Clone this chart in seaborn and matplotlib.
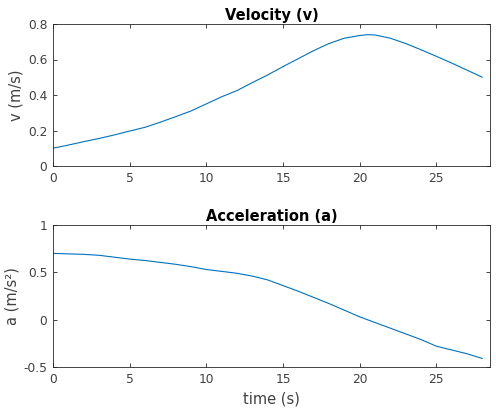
import matplotlib
matplotlib.use("Agg")
import matplotlib.pyplot as plt
import seaborn as sns
import pandas as pd

time_s = [0, 1, 2, 3, 4, 5, 6, 7, 8, 9, 10, 11, 12, 13, 14, 15, 16, 17, 18, 19,
          20, 20.5, 21, 22, 23, 24, 25, 26, 27, 28]
velocity = [0.100, 0.118, 0.137, 0.155, 0.175, 0.197, 0.218, 0.247, 0.278, 0.310,
            0.350, 0.390, 0.425, 0.470, 0.513, 0.560, 0.605, 0.650, 0.690, 0.720,
            0.735, 0.740, 0.738, 0.720, 0.690, 0.655, 0.618, 0.580, 0.540, 0.500]
acceleration = [0.700, 0.695, 0.690, 0.680, 0.660, 0.640, 0.625, 0.605, 0.585, 0.560,
                0.530, 0.510, 0.490, 0.460, 0.420, 0.360, 0.300, 0.235, 0.170, 0.100,
                0.030, 0.000, -0.030, -0.090, -0.150, -0.210, -0.280, -0.320, -0.360, -0.410]

v_ticks = [0, 0.2, 0.4, 0.6, 0.8]
a_ticks = [-0.5, 0, 0.5, 1]
x_ticks = [0, 5, 10, 15, 20, 25]

df = pd.DataFrame({"t": time_s, "v": velocity, "a": acceleration})

sns.set_style("white")
plt.rcParams["font.family"] = ["DejaVu Sans"]

line_color = "#0072BD"
axis_color = "#262626"
text_color = "#404040"

fig = plt.figure(figsize=(4.96, 4.12), dpi=100)
ax1 = fig.add_axes([53/496, 1 - 166/412, 437/496, 142/412])
ax2 = fig.add_axes([53/496, 1 - 367/412, 437/496, 142/412])

sns.lineplot(data=df, x="t", y="v", ax=ax1, color=line_color, linewidth=0.8)
sns.lineplot(data=df, x="t", y="a", ax=ax2, color=line_color, linewidth=0.8)

for ax, yt, ylim, ylabel, title in [
    (ax1, v_ticks, (0, 0.8), "v (m/s)", "Velocity (v)"),
    (ax2, a_ticks, (-0.5, 1), "a (m/s²)", "Acceleration (a)"),
]:
    ax.set_xlim(0, 28.5)
    ax.set_ylim(*ylim)
    ax.set_xticks(x_ticks)
    ax.set_yticks(yt)
    ax.set_yticklabels([("%g" % y) for y in yt])
    ax.tick_params(direction="in", length=3, width=0.6, colors=axis_color,
                   labelcolor=text_color, labelsize=8.8, top=True, right=True,
                   bottom=True, left=True, pad=4)
    for sp in ax.spines.values():
        sp.set_visible(True)
        sp.set_color(axis_color)
        sp.set_linewidth(0.6)
    ax.set_ylabel(ylabel, fontsize=10.5, color=text_color, labelpad=3)
    ax.set_xlabel("")
    ax.set_title(title, fontsize=10.5, fontweight="bold", color="black", pad=3)

ax2.set_xlabel("time (s)", fontsize=10.5, color=text_color, labelpad=4)

fig.savefig("out.png", dpi=100)
